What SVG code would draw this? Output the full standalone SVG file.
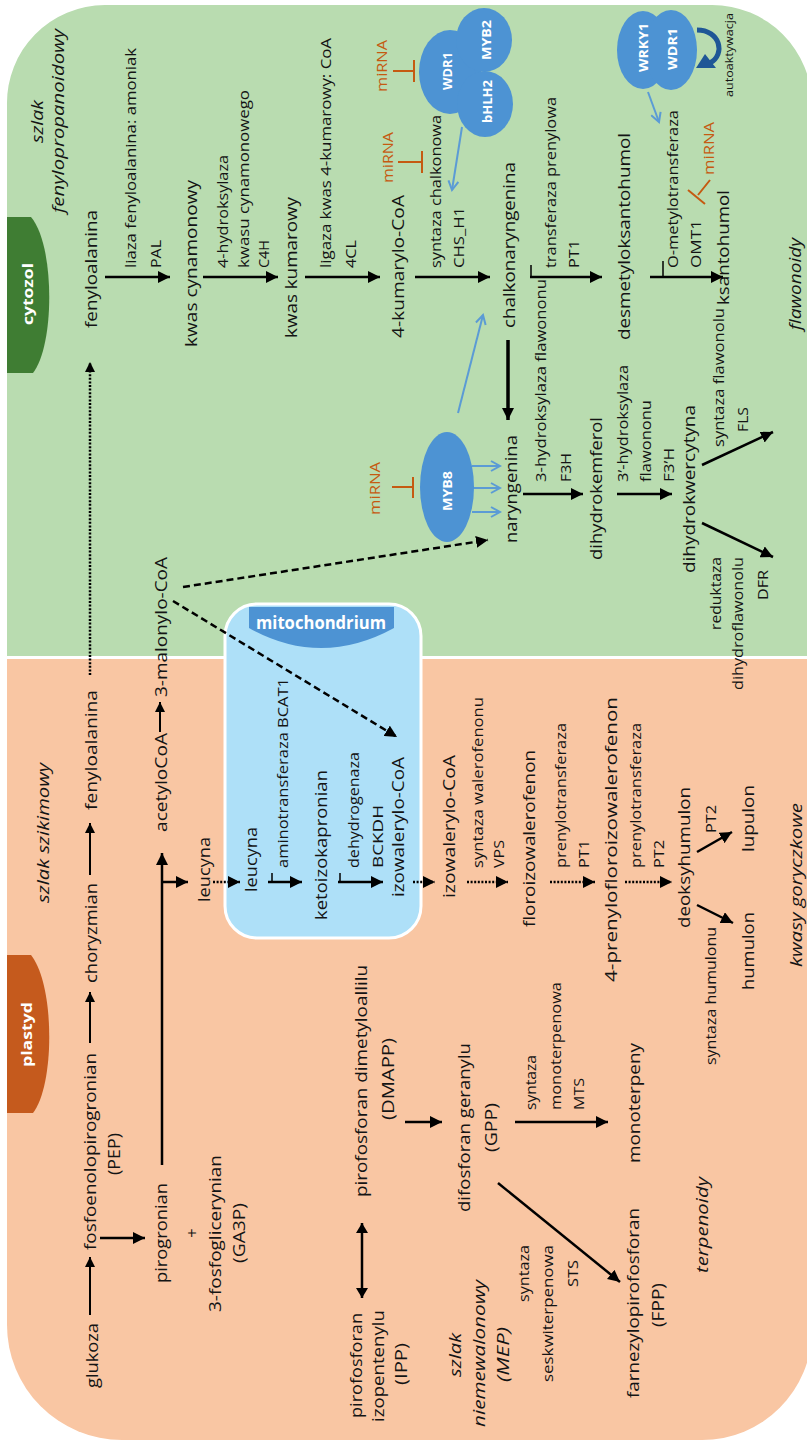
<svg xmlns="http://www.w3.org/2000/svg" width="807" height="1442" viewBox="0 0 807 1442">
<defs>
<style>
text{font-family:"Open Sans","Liberation Sans",sans-serif;text-anchor:middle;dominant-baseline:central;fill:#141414}
.t{font-size:16.5px}
.s{font-size:14px}
.i{font-size:16px;font-style:italic}
.w{fill:#fff;font-weight:bold;font-size:13px}
.tab{fill:#fff;font-weight:bold;font-size:15px}
.m{fill:#c55a11;font-size:14px}
.a{fill:none;stroke:#000;stroke-width:2.5}
.a2{fill:none;stroke:#000;stroke-width:2}
.tk{fill:none;stroke:#000;stroke-width:1.5}
.dot{fill:none;stroke:#000;stroke-width:2.5;stroke-dasharray:2 1.6}
.dash{fill:none;stroke:#000;stroke-width:2.5;stroke-dasharray:7 4}
.b{fill:none;stroke:#5b9bd5;stroke-width:2}
.inh{fill:none;stroke:#c55a11;stroke-width:2}
.blob{fill:#4d93d3}
</style>
<marker id="ah" markerUnits="userSpaceOnUse" markerWidth="13" markerHeight="12" refX="12" refY="6" orient="auto"><path d="M0,0L12,6L0,12Z" fill="#000"/></marker>
<marker id="ahs" markerUnits="userSpaceOnUse" markerWidth="11" markerHeight="10" refX="10" refY="5" orient="auto"><path d="M0,0L10,5L0,10Z" fill="#000"/></marker>
<marker id="ahd" markerUnits="userSpaceOnUse" markerWidth="11" markerHeight="12" refX="10" refY="6" orient="auto-start-reverse"><path d="M0,0L10,6L0,12Z" fill="#000"/></marker>
<marker id="ab" markerUnits="userSpaceOnUse" markerWidth="12" markerHeight="12" refX="10" refY="6" orient="auto"><path d="M1,1L10,6L1,11" fill="none" stroke="#5b9bd5" stroke-width="2"/></marker>
</defs>

<g id="background">
<path d="M7,105 A98,98 0 0 1 105,5 L712,5 A100,100 0 0 1 812,105 L812,656 L7,656 Z" fill="#b9dcb0"/>
<path d="M7,659 L812,659 L812,1330 A110,110 0 0 1 702,1440 L122,1440 A115,115 0 0 1 7,1325 Z" fill="#f9c6a3"/>
</g>

<g id="tab-cytozol">
<path d="M7,217 L31,217 C55,245 55,345 33,373 L7,373 Z" fill="#3f7d33"/>
<text class="tab" transform="translate(27 294) rotate(-90)" textLength="62" lengthAdjust="spacingAndGlyphs">cytozol</text>
</g>
<g id="tab-plastyd">
<path d="M7,955 L31,955 C55,985 55,1085 33,1113 L7,1113 Z" fill="#c55a1d"/>
<text class="tab" transform="translate(26 1034.5) rotate(-90)" textLength="65" lengthAdjust="spacingAndGlyphs">plastyd</text>
</g>
<g id="mitochondrium">
<rect x="225" y="604" width="196" height="334" rx="32" fill="#aee0f8" stroke="#fff" stroke-width="3"/>
<path d="M249,607 L394,607 L394,628 Q321,668 249,628 Z" fill="#4d93d3"/>
<text x="321" y="629" style="fill:#fff;font-weight:bold;font-size:17px;dominant-baseline:alphabetic" textLength="130" lengthAdjust="spacingAndGlyphs">mitochondrium</text>
</g>

<g id="section-labels">
<text class="i" transform="translate(37 121.5) rotate(-90)" textLength="43" lengthAdjust="spacingAndGlyphs">szlak</text>
<text class="i" transform="translate(58 121) rotate(-90)" textLength="184" lengthAdjust="spacingAndGlyphs">fenylopropanoidowy</text>
<text class="i" transform="translate(43 833) rotate(-90)" textLength="140" lengthAdjust="spacingAndGlyphs">szlak szikimowy</text>
<text class="i" transform="translate(795 284) rotate(-90)" textLength="92" lengthAdjust="spacingAndGlyphs">flawonoidy</text>
<text class="i" transform="translate(796 885) rotate(-90)" textLength="164" lengthAdjust="spacingAndGlyphs">kwasy goryczkowe</text>
<text class="i" transform="translate(702 1225) rotate(-90)" textLength="96" lengthAdjust="spacingAndGlyphs">terpenoidy</text>
<text class="i" transform="translate(455 1355) rotate(-90)" textLength="44" lengthAdjust="spacingAndGlyphs">szlak</text>
<text class="i" transform="translate(479 1353.5) rotate(-90)" textLength="147" lengthAdjust="spacingAndGlyphs">niemewalonowy</text>
<text class="i" transform="translate(503 1354.5) rotate(-90)" textLength="55" lengthAdjust="spacingAndGlyphs">(MEP)</text>
</g>

<g id="connectors">
<line class="a" x1="105" y1="277" x2="170" y2="277" marker-end="url(#ah)"/>
<line class="a" x1="203" y1="277" x2="278" y2="277" marker-end="url(#ah)"/>
<line class="a" x1="305" y1="277" x2="380" y2="277" marker-end="url(#ah)"/>
<line class="a" x1="415" y1="277" x2="490" y2="277" marker-end="url(#ah)"/>
<line class="a" x1="530" y1="277" x2="602" y2="277" marker-end="url(#ah)"/>
<line class="a" x1="650" y1="277" x2="723" y2="277" marker-end="url(#ah)"/>
<line class="tk" x1="531" y1="265" x2="531" y2="277"/>
<line class="tk" x1="663" y1="261" x2="663" y2="277"/>
<line class="a" style="stroke-width:3.5" x1="508" y1="340" x2="508" y2="420" marker-end="url(#ah)"/>
<line class="a" x1="523" y1="494" x2="583" y2="494" marker-end="url(#ah)"/>
<line class="a" x1="617" y1="494" x2="672" y2="494" marker-end="url(#ah)"/>
<line class="a" x1="702" y1="465" x2="773" y2="432" marker-end="url(#ah)"/>
<line class="a" x1="702" y1="523" x2="773" y2="557" marker-end="url(#ah)"/>
<line class="dash" x1="183" y1="587" x2="488" y2="540" marker-end="url(#ah)"/>
<line class="dash" x1="173" y1="601" x2="397" y2="737" marker-end="url(#ah)"/>
<line class="dot" x1="90" y1="675" x2="90" y2="362" marker-end="url(#ahs)"/>
<line class="a2" x1="160" y1="732" x2="160" y2="702" marker-end="url(#ahs)"/>
<line class="a2" x1="90" y1="875" x2="90" y2="823" marker-end="url(#ahs)"/>
<line class="a2" x1="90" y1="1043" x2="90" y2="992" marker-end="url(#ahs)"/>
<line class="a2" x1="90" y1="1315" x2="90" y2="1257" marker-end="url(#ahs)"/>
<line class="a" x1="100" y1="1238" x2="145" y2="1238" marker-end="url(#ah)"/>
<line class="a" x1="162" y1="1165" x2="162" y2="853" marker-end="url(#ah)"/>
<line class="a" x1="162" y1="882" x2="188" y2="882" marker-end="url(#ah)"/>
<line class="dot" x1="213" y1="882" x2="240" y2="882" marker-end="url(#ah)"/>
<line class="a" x1="268" y1="882" x2="302" y2="882" marker-end="url(#ah)"/>
<line class="tk" x1="272" y1="873" x2="272" y2="882"/>
<line class="a" x1="338" y1="882" x2="383" y2="882" marker-end="url(#ah)"/>
<line class="tk" x1="340" y1="873" x2="340" y2="882"/>
<line class="dot" x1="413" y1="882" x2="435" y2="882" marker-end="url(#ah)"/>
<line class="dot" x1="467" y1="882" x2="508" y2="882" marker-end="url(#ah)"/>
<line class="dot" x1="550" y1="882" x2="595" y2="882" marker-end="url(#ah)"/>
<line class="dot" x1="625" y1="882" x2="672" y2="882" marker-end="url(#ah)"/>
<line class="a" x1="697" y1="852" x2="732" y2="832" marker-end="url(#ah)"/>
<line class="a" x1="697" y1="905" x2="733" y2="923" marker-end="url(#ah)"/>
<line class="a" x1="405" y1="1122" x2="442" y2="1122" marker-end="url(#ah)"/>
<line class="a" x1="515" y1="1122" x2="608" y2="1122" marker-end="url(#ah)"/>
<line class="a" x1="498" y1="1183" x2="620" y2="1282" marker-end="url(#ah)"/>
<line class="a" x1="362" y1="1298" x2="362" y2="1223" marker-start="url(#ahd)" marker-end="url(#ahd)"/>
<line class="b" x1="462" y1="127" x2="452" y2="190" marker-end="url(#ab)"/>
<line class="b" x1="458" y1="413" x2="483" y2="315" marker-end="url(#ab)"/>
<line class="b" x1="472" y1="466" x2="500" y2="466" marker-end="url(#ab)"/>
<line class="b" x1="472" y1="488" x2="500" y2="488" marker-end="url(#ab)"/>
<line class="b" x1="472" y1="512" x2="500" y2="512" marker-end="url(#ab)"/>
<line class="b" x1="648" y1="92" x2="659" y2="122" marker-end="url(#ab)"/>
<path class="inh" d="M393,71 H414 M414,60 V82"/>
<path class="inh" d="M398,162 H422 M422,151 V173"/>
<path class="inh" d="M392,487 H413 M413,477 V498"/>
<path class="inh" d="M710,180 L698,195 M688,190 L705,204"/>
<path d="M697,30 C720,30 726,54 710,63" fill="none" stroke="#1f5796" stroke-width="5"/>
<path d="M696,68 L705,54 L716,68 Z" fill="#1f5796"/>
</g>

<g id="cloud-wdr1-myb2-bhlh2">
<ellipse class="blob" cx="450" cy="72" rx="31" ry="42"/>
<ellipse class="blob" cx="484" cy="40" rx="28" ry="32"/>
<ellipse class="blob" cx="485" cy="104" rx="28" ry="33"/>
<text class="w" transform="translate(447 71) rotate(-90)" textLength="38" lengthAdjust="spacingAndGlyphs">WDR1</text>
<text class="w" transform="translate(486 40) rotate(-90)" textLength="40" lengthAdjust="spacingAndGlyphs">MYB2</text>
<text class="w" transform="translate(487 101.5) rotate(-90)" textLength="43" lengthAdjust="spacingAndGlyphs">bHLH2</text>
</g>
<g id="cloud-wrky1-wdr1">
<ellipse class="blob" cx="643" cy="50" rx="26" ry="39"/>
<ellipse class="blob" cx="671" cy="50" rx="26" ry="40"/>
<text class="w" transform="translate(643 47.5) rotate(-90)" textLength="49" lengthAdjust="spacingAndGlyphs">WRKY1</text>
<text class="w" transform="translate(672 49) rotate(-90)" textLength="42" lengthAdjust="spacingAndGlyphs">WDR1</text>
<text transform="translate(728 55) rotate(-90)" style="font-size:11px" textLength="84" lengthAdjust="spacingAndGlyphs">autoaktywacja</text>
</g>
<g id="myb8">
<ellipse class="blob" cx="447" cy="487" rx="27" ry="55"/>
<text class="w" transform="translate(447 491) rotate(-90)" textLength="40" lengthAdjust="spacingAndGlyphs">MYB8</text>
</g>
<g id="mirna">
<text class="m" transform="translate(381 66) rotate(-90)" textLength="52" lengthAdjust="spacingAndGlyphs">miRNA</text>
<text class="m" transform="translate(387 157.5) rotate(-90)" textLength="51" lengthAdjust="spacingAndGlyphs">miRNA</text>
<text class="m" transform="translate(708 148.5) rotate(-90)" textLength="53" lengthAdjust="spacingAndGlyphs">miRNA</text>
<text class="m" transform="translate(374 488.5) rotate(-90)" textLength="53" lengthAdjust="spacingAndGlyphs">miRNA</text>
</g>

<g id="enzymes">
<text class="s" transform="translate(130 158) rotate(-90)" textLength="220" lengthAdjust="spacingAndGlyphs">liaza fenyloalanina: amoniak</text>
<text class="s" transform="translate(155 254) rotate(-90)" textLength="28" lengthAdjust="spacingAndGlyphs">PAL</text>
<text class="s" transform="translate(222 211.5) rotate(-90)" textLength="113" lengthAdjust="spacingAndGlyphs">4-hydroksylaza</text>
<text class="s" transform="translate(243 179) rotate(-90)" textLength="178" lengthAdjust="spacingAndGlyphs">kwasu cynamonowego</text>
<text class="s" transform="translate(263 254) rotate(-90)" textLength="28" lengthAdjust="spacingAndGlyphs">C4H</text>
<text class="s" transform="translate(325 153) rotate(-90)" textLength="230" lengthAdjust="spacingAndGlyphs">ligaza kwas 4-kumarowy: CoA</text>
<text class="s" transform="translate(350 254) rotate(-90)" textLength="28" lengthAdjust="spacingAndGlyphs">4CL</text>
<text class="s" transform="translate(435 191.5) rotate(-90)" textLength="153" lengthAdjust="spacingAndGlyphs">syntaza chalkonowa</text>
<text class="s" transform="translate(458 237.5) rotate(-90)" textLength="61" lengthAdjust="spacingAndGlyphs">CHS_H1</text>
<text class="s" transform="translate(550 182.5) rotate(-90)" textLength="171" lengthAdjust="spacingAndGlyphs">transferaza prenylowa</text>
<text class="s" transform="translate(573 254) rotate(-90)" textLength="28" lengthAdjust="spacingAndGlyphs">PT1</text>
<text class="s" transform="translate(672 189) rotate(-90)" textLength="158" lengthAdjust="spacingAndGlyphs">O-metylotransferaza</text>
<text class="s" transform="translate(695 244) rotate(-90)" textLength="48" lengthAdjust="spacingAndGlyphs">OMT1</text>
<text class="s" transform="translate(540 380.5) rotate(-90)" textLength="203" lengthAdjust="spacingAndGlyphs">3-hydroksylaza flawononu</text>
<text class="s" transform="translate(565 467.5) rotate(-90)" textLength="29" lengthAdjust="spacingAndGlyphs">F3H</text>
<text class="s" transform="translate(622 423.5) rotate(-90)" textLength="117" lengthAdjust="spacingAndGlyphs">3’-hydroksylaza</text>
<text class="s" transform="translate(645 441) rotate(-90)" textLength="82" lengthAdjust="spacingAndGlyphs">flawononu</text>
<text class="s" transform="translate(668 465) rotate(-90)" textLength="34" lengthAdjust="spacingAndGlyphs">F3’H</text>
<text class="s" transform="translate(718 377.5) rotate(-90)" textLength="139" lengthAdjust="spacingAndGlyphs">syntaza flawonolu</text>
<text class="s" transform="translate(742 419.5) rotate(-90)" textLength="25" lengthAdjust="spacingAndGlyphs">FLS</text>
<text class="s" transform="translate(715 593.5) rotate(-90)" textLength="73" lengthAdjust="spacingAndGlyphs">reduktaza</text>
<text class="s" transform="translate(737 623.5) rotate(-90)" textLength="133" lengthAdjust="spacingAndGlyphs">dihydroflawonolu</text>
<text class="s" transform="translate(762 585) rotate(-90)" textLength="30" lengthAdjust="spacingAndGlyphs">DFR</text>
<text class="s" transform="translate(282 773) rotate(-90)" textLength="190" lengthAdjust="spacingAndGlyphs">aminotransferaza BCAT1</text>
<text class="s" transform="translate(353 810) rotate(-90)" textLength="116" lengthAdjust="spacingAndGlyphs">dehydrogenaza</text>
<text class="s" transform="translate(377 836.5) rotate(-90)" textLength="63" lengthAdjust="spacingAndGlyphs">BCKDH</text>
<text class="s" transform="translate(477 782.5) rotate(-90)" textLength="171" lengthAdjust="spacingAndGlyphs">syntaza walerofenonu</text>
<text class="s" transform="translate(498 854) rotate(-90)" textLength="28" lengthAdjust="spacingAndGlyphs">VPS</text>
<text class="s" transform="translate(560 795.5) rotate(-90)" textLength="145" lengthAdjust="spacingAndGlyphs">prenylotransferaza</text>
<text class="s" transform="translate(583 854) rotate(-90)" textLength="28" lengthAdjust="spacingAndGlyphs">PT1</text>
<text class="s" transform="translate(635 795.5) rotate(-90)" textLength="145" lengthAdjust="spacingAndGlyphs">prenylotransferaza</text>
<text class="s" transform="translate(658 854) rotate(-90)" textLength="28" lengthAdjust="spacingAndGlyphs">PT2</text>
<text class="s" transform="translate(710 819) rotate(-90)" textLength="28" lengthAdjust="spacingAndGlyphs">PT2</text>
<text class="s" transform="translate(710 996) rotate(-90)" textLength="138" lengthAdjust="spacingAndGlyphs">syntaza humulonu</text>
<text class="s" transform="translate(530 1082.5) rotate(-90)" textLength="55" lengthAdjust="spacingAndGlyphs">syntaza</text>
<text class="s" transform="translate(555 1046) rotate(-90)" textLength="128" lengthAdjust="spacingAndGlyphs">monoterpenowa</text>
<text class="s" transform="translate(578 1094) rotate(-90)" textLength="32" lengthAdjust="spacingAndGlyphs">MTS</text>
<text class="s" transform="translate(523 1273.5) rotate(-90)" textLength="57" lengthAdjust="spacingAndGlyphs">syntaza</text>
<text class="s" transform="translate(547 1313.5) rotate(-90)" textLength="137" lengthAdjust="spacingAndGlyphs">seskwiterpenowa</text>
<text class="s" transform="translate(572 1273.5) rotate(-90)" textLength="27" lengthAdjust="spacingAndGlyphs">STS</text>
</g>

<g id="n-fenyloalanina-c"><text class="t" transform="translate(90 269) rotate(-90)" textLength="118" lengthAdjust="spacingAndGlyphs">fenyloalanina</text></g>
<g id="n-kwas-cynamonowy"><text class="t" transform="translate(190 263.5) rotate(-90)" textLength="167" lengthAdjust="spacingAndGlyphs">kwas cynamonowy</text></g>
<g id="n-kwas-kumarowy"><text class="t" transform="translate(290 267.5) rotate(-90)" textLength="141" lengthAdjust="spacingAndGlyphs">kwas kumarowy</text></g>
<g id="n-4-kumarylo-coa"><text class="t" transform="translate(397 266.5) rotate(-90)" textLength="143" lengthAdjust="spacingAndGlyphs">4-kumarylo-CoA</text></g>
<g id="n-chalkonaryngenina"><text class="t" transform="translate(508 245) rotate(-90)" textLength="166" lengthAdjust="spacingAndGlyphs">chalkonaryngenina</text></g>
<g id="n-desmetyloksantohumol"><text class="t" transform="translate(623 236.5) rotate(-90)" textLength="207" lengthAdjust="spacingAndGlyphs">desmetyloksantohumol</text></g>
<g id="n-ksantohumol"><text class="t" transform="translate(722 247.5) rotate(-90)" textLength="115" lengthAdjust="spacingAndGlyphs">ksantohumol</text></g>
<g id="n-naryngenina"><text class="t" transform="translate(510 489) rotate(-90)" textLength="108" lengthAdjust="spacingAndGlyphs">naryngenina</text></g>
<g id="n-dihydrokemferol"><text class="t" transform="translate(595 488.5) rotate(-90)" textLength="143" lengthAdjust="spacingAndGlyphs">dihydrokemferol</text></g>
<g id="n-dihydrokwercytyna"><text class="t" transform="translate(688 489) rotate(-90)" textLength="168" lengthAdjust="spacingAndGlyphs">dihydrokwercytyna</text></g>
<g id="n-3-malonylo-coa"><text class="t" transform="translate(160 627) rotate(-90)" textLength="140" lengthAdjust="spacingAndGlyphs">3-malonylo-CoA</text></g>
<g id="n-fenyloalanina-p"><text class="t" transform="translate(90 750) rotate(-90)" textLength="120" lengthAdjust="spacingAndGlyphs">fenyloalanina</text></g>
<g id="n-choryzmian"><text class="t" transform="translate(90 933) rotate(-90)" textLength="100" lengthAdjust="spacingAndGlyphs">choryzmian</text></g>
<g id="n-pep">
<text class="t" transform="translate(89 1151.5) rotate(-90)" textLength="197" lengthAdjust="spacingAndGlyphs">fosfoenolopirogronian</text>
<text class="t" transform="translate(113 1154) rotate(-90)" textLength="42" lengthAdjust="spacingAndGlyphs">(PEP)</text>
</g>
<g id="n-glukoza"><text class="t" transform="translate(91 1355.5) rotate(-90)" textLength="65" lengthAdjust="spacingAndGlyphs">glukoza</text></g>
<g id="n-pirogronian">
<text class="t" transform="translate(160 1233) rotate(-90)" textLength="100" lengthAdjust="spacingAndGlyphs">pirogronian</text>
<text class="t" transform="translate(191 1233) rotate(-90)">+</text>
<text class="t" transform="translate(214 1233.5) rotate(-90)" textLength="157" lengthAdjust="spacingAndGlyphs">3-fosfoglicerynian</text>
<text class="t" transform="translate(238 1233) rotate(-90)" textLength="60" lengthAdjust="spacingAndGlyphs">(GA3P)</text>
</g>
<g id="n-acetylocoa"><text class="t" transform="translate(160 782.5) rotate(-90)" textLength="99" lengthAdjust="spacingAndGlyphs">acetyloCoA</text></g>
<g id="n-leucyna-p"><text class="t" transform="translate(203 869.5) rotate(-90)" textLength="65" lengthAdjust="spacingAndGlyphs">leucyna</text></g>
<g id="n-leucyna-m"><text class="t" transform="translate(250 859.5) rotate(-90)" textLength="65" lengthAdjust="spacingAndGlyphs">leucyna</text></g>
<g id="n-ketoizokapronian"><text class="t" transform="translate(320 845) rotate(-90)" textLength="150" lengthAdjust="spacingAndGlyphs">ketoizokapronian</text></g>
<g id="n-izowalerylo-coa-m"><text class="t" transform="translate(397 827) rotate(-90)" textLength="140" lengthAdjust="spacingAndGlyphs">izowalerylo-CoA</text></g>
<g id="n-izowalerylo-coa"><text class="t" transform="translate(448 826.5) rotate(-90)" textLength="143" lengthAdjust="spacingAndGlyphs">izowalerylo-CoA</text></g>
<g id="n-floroizowalerofenon"><text class="t" transform="translate(528 838.5) rotate(-90)" textLength="177" lengthAdjust="spacingAndGlyphs">floroizowalerofenon</text></g>
<g id="n-4-prenylofloroizowalerofenon"><text class="t" transform="translate(610 839.5) rotate(-90)" textLength="285" lengthAdjust="spacingAndGlyphs">4-prenylofloroizowalerofenon</text></g>
<g id="n-deoksyhumulon"><text class="t" transform="translate(683 857.5) rotate(-90)" textLength="141" lengthAdjust="spacingAndGlyphs">deoksyhumulon</text></g>
<g id="n-lupulon"><text class="t" transform="translate(747 818.5) rotate(-90)" textLength="67" lengthAdjust="spacingAndGlyphs">lupulon</text></g>
<g id="n-humulon"><text class="t" transform="translate(747 951) rotate(-90)" textLength="78" lengthAdjust="spacingAndGlyphs">humulon</text></g>
<g id="n-dmapp">
<text class="t" transform="translate(360 1081) rotate(-90)" textLength="232" lengthAdjust="spacingAndGlyphs">pirofosforan dimetyloallilu</text>
<text class="t" transform="translate(387 1079) rotate(-90)" textLength="82" lengthAdjust="spacingAndGlyphs">(DMAPP)</text>
</g>
<g id="n-ipp">
<text class="t" transform="translate(355 1365.5) rotate(-90)" textLength="105" lengthAdjust="spacingAndGlyphs">pirofosforan</text>
<text class="t" transform="translate(377 1366) rotate(-90)" textLength="112" lengthAdjust="spacingAndGlyphs">izopentenylu</text>
<text class="t" transform="translate(400 1364) rotate(-90)" textLength="42" lengthAdjust="spacingAndGlyphs">(IPP)</text>
</g>
<g id="n-gpp">
<text class="t" transform="translate(463 1127.5) rotate(-90)" textLength="169" lengthAdjust="spacingAndGlyphs">difosforan geranylu</text>
<text class="t" transform="translate(490 1127.5) rotate(-90)" textLength="49" lengthAdjust="spacingAndGlyphs">(GPP)</text>
</g>
<g id="n-monoterpeny"><text class="t" transform="translate(633 1103) rotate(-90)" textLength="120" lengthAdjust="spacingAndGlyphs">monoterpeny</text></g>
<g id="n-fpp">
<text class="t" transform="translate(632 1303) rotate(-90)" textLength="190" lengthAdjust="spacingAndGlyphs">farnezylopirofosforan</text>
<text class="t" transform="translate(657 1305) rotate(-90)" textLength="44" lengthAdjust="spacingAndGlyphs">(FPP)</text>
</g>
</svg>
